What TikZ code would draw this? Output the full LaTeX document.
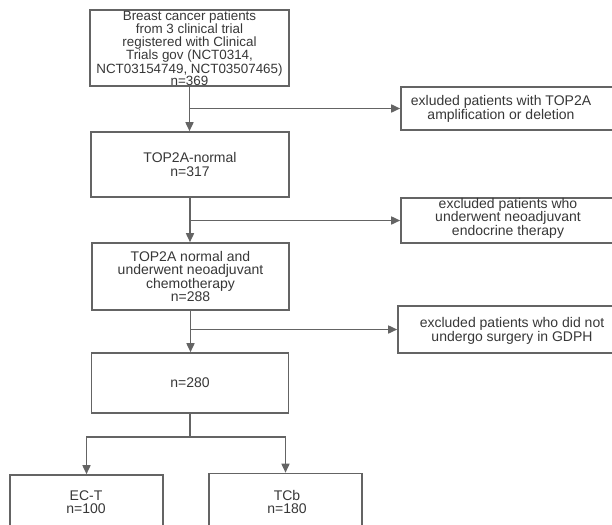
\documentclass[tikz,border=0pt]{standalone}
\usepackage{fontspec}
\setmainfont{Liberation Sans}
\usetikzlibrary{arrows.meta}
\definecolor{lc}{RGB}{100,100,100}
\definecolor{tc}{RGB}{55,55,55}
\begin{document}
\begin{tikzpicture}[x=1pt,y=-1pt,
  box/.style={draw=lc,line width=1.6pt,rectangle,inner sep=0pt,align=center,text=tc,
    font=\fontsize{14}{13.5}\selectfont},
  txt/.style={inner sep=0pt,align=center,text=tc,font=\fontsize{14}{13.5}\selectfont},
  arr/.style={draw=lc,line width=1.6pt,-{Triangle[length=9pt,width=8pt]}},
  ln/.style={draw=lc,line width=1.6pt}]
\useasboundingbox (0,0) rectangle (612,524);
\clip (0,0) rectangle (612,524);
% main column
\node[box,minimum width=199pt,minimum height=76pt,font=\fontsize{13.4}{12.2}\selectfont] (top) at (189.5,48)
  {Breast cancer patients\\from 3 clinical trial\\registered with Clinical\\Trials gov (NCT0314,\\NCT03154749, NCT03507465)\\n=369};
\node[box,minimum width=198pt,minimum height=65pt] (b2) at (190,164.5) {TOP2A-normal\\n=317};
\node[box,minimum width=197pt,minimum height=67pt] (b3) at (190.5,276.5)
  {TOP2A normal and\\underwent neoadjuvant\\chemotherapy\\n=288};
\node[box,minimum width=197pt,minimum height=60pt] (b4) at (190,383) {n=280};
% exclusion boxes
\node[box,minimum width=239pt,minimum height=43pt] (e1) at (520.5,108.5) {};
\node[txt] (t1) at (501,109) {exluded patients with TOP2A\\amplification or deletion};
\node[box,minimum width=239pt,minimum height=45pt] (e2) at (520.5,220.5) {};
\node[txt] (t2) at (508,218) {excluded patients who\\underwent neoadjuvant\\endocrine therapy};
\node[box,minimum width=242pt,minimum height=47pt] (e3) at (519,329.5) {};
\node[txt] (t3) at (512,331) {excluded patients who did not\\undergo surgery in GDPH};
% arms
\node[box,minimum width=153pt,minimum height=85pt] (ect) at (86.5,517.5) {};
\node[txt] (t4) at (86,502) {EC-T\\n=100};
\node[box,minimum width=153pt,minimum height=85pt] (tcb) at (285.5,516) {};
\node[txt] (t5) at (287,502) {TCb\\n=180};
% connectors
\draw[arr] (top.south) -- (top.south |- b2.north);
\draw[arr] (top.south |- e1.west) -- (e1.west);
\draw[arr] (b2.south) -- (b2.south |- b3.north);
\draw[arr] (b2.south |- e2.west) -- (e2.west);
\draw[arr] (b3.south) -- (b3.south |- b4.north);
\draw[arr] (b3.south |- e3.west) -- (e3.west);
\draw[ln] (b4.south) -- ++(0,23) coordinate (sp);
\draw[arr] (sp) -| (ect.north);
\draw[arr] (sp) -| (tcb.north);
\end{tikzpicture}
\end{document}
